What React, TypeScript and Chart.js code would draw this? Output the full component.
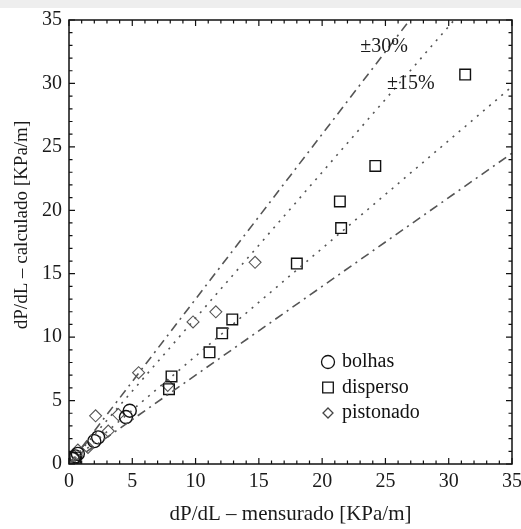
import React, { useEffect, useRef } from "react";
import { Chart, registerables } from "chart.js";

Chart.register(...registerables);

// ---- data ----
const bolhasX = [0.3, 0.5, 0.7, 2.0, 2.3, 4.5, 4.8];
const bolhasY = [0.4, 0.6, 0.8, 1.8, 2.1, 3.7, 4.2];

const dispersoX = [0.5, 7.9, 8.1, 11.1, 12.1, 12.9, 18.0, 21.4, 21.5, 24.2, 31.3];
const dispersoY = [0.5, 5.9, 6.9, 8.8, 10.3, 11.4, 15.8, 20.7, 18.6, 23.5, 30.7];

const pistonadoX = [0.4, 0.7, 1.5, 2.1, 3.1, 3.9, 5.5, 7.8, 9.8, 11.6, 14.7];
const pistonadoY = [0.6, 1.1, 1.3, 3.8, 2.6, 3.9, 7.2, 6.2, 11.2, 12.0, 15.9];

// reference lines (endpoints)
const linePlus30 = [[0, 0], [35, 45.5]];
const linePlus15 = [[0, 0], [35, 40.25]];
const lineMinus15 = [[0, 0], [35, 29.75]];
const lineMinus30 = [[0, 0], [35, 24.5]];

const axisMin = 0;
const axisMax = 35;
const majorStep = 5;
const minorStep = 1;

const xTitle = "dP/dL \u2013 mensurado [KPa/m]";
const yTitle = "dP/dL \u2013 calculado [KPa/m]";
const legendLabels = ["bolhas", "disperso", "pistonado"];
const band30Label = "\u00b130%";
const band15Label = "\u00b115%";

const SERIF = "'Liberation Serif', 'Times New Roman', serif";

const toPts = (xs: number[], ys: number[]) => xs.map((x, i) => ({ x, y: ys[i] }));
const linePts = (l: number[][]) => l.map(([x, y]) => ({ x, y }));

function drawMarker(ctx: CanvasRenderingContext2D, style: string, r: number, x: number, y: number) {
  ctx.beginPath();
  if (style === "circle") {
    ctx.arc(x, y, r, 0, Math.PI * 2);
  } else if (style === "rect") {
    const s = r * Math.SQRT1_2;
    ctx.rect(x - s, y - s, 2 * s, 2 * s);
  } else {
    ctx.moveTo(x, y - r);
    ctx.lineTo(x + r, y);
    ctx.lineTo(x, y + r);
    ctx.lineTo(x - r, y);
    ctx.closePath();
  }
  ctx.stroke();
}

const framePlugin = {
  id: "frame",
  beforeDraw(chart: any) {
    const { ctx, width } = chart;
    ctx.save();
    ctx.fillStyle = "#ffffff";
    ctx.fillRect(0, 0, chart.width, chart.height);
    ctx.fillStyle = "#eeeeee";
    ctx.fillRect(0, 0, width, 8);
    ctx.restore();
  },
  afterDraw(chart: any) {
    const { ctx, chartArea: a, scales } = chart;
    const xs = scales.x;
    const ys = scales.y;
    ctx.save();
    ctx.strokeStyle = "#111";
    ctx.lineWidth = 1.5;
    ctx.strokeRect(a.left, a.top, a.right - a.left, a.bottom - a.top);
    ctx.lineWidth = 1.2;
    for (let v = axisMin; v <= axisMax + 1e-9; v += minorStep) {
      const major = Math.abs(v % majorStep) < 1e-9;
      const len = major ? 6 : 3.5;
      const px = xs.getPixelForValue(v);
      const py = ys.getPixelForValue(v);
      ctx.beginPath();
      ctx.moveTo(px, a.bottom);
      ctx.lineTo(px, a.bottom - len);
      ctx.moveTo(px, a.top);
      ctx.lineTo(px, a.top + len);
      ctx.moveTo(a.left, py);
      ctx.lineTo(a.left + len, py);
      ctx.moveTo(a.right, py);
      ctx.lineTo(a.right - len, py);
      ctx.stroke();
    }
    // tick labels
    ctx.fillStyle = "#1a1a1a";
    ctx.font = `20px ${SERIF}`;
    for (let v = axisMin; v <= axisMax + 1e-9; v += majorStep) {
      ctx.textAlign = "center";
      ctx.textBaseline = "middle";
      ctx.fillText(String(v), xs.getPixelForValue(v), a.bottom + 18);
      ctx.textAlign = "right";
      ctx.fillText(String(v), a.left - 7, ys.getPixelForValue(v));
    }
    // axis titles
    ctx.font = `21px ${SERIF}`;
    ctx.textAlign = "center";
    ctx.textBaseline = "middle";
    ctx.fillText(xTitle, (a.left + a.right) / 2, a.bottom + 50);
    ctx.save();
    ctx.font = `19px ${SERIF}`;
    ctx.translate(22, 225);
    ctx.rotate(-Math.PI / 2);
    ctx.fillText(yTitle, 0, 0);
    ctx.restore();
    // band labels
    ctx.font = `20px ${SERIF}`;
    ctx.textAlign = "center";
    ctx.fillText(band30Label, xs.getPixelForValue(24.9), ys.getPixelForValue(32.9));
    ctx.fillText(band15Label, xs.getPixelForValue(27.0), ys.getPixelForValue(30.0));
    // legend
    const styles = ["circle", "rect", "rectRot"];
    const radii = [6.5, 7.5, 5];
    const colors = ["#111", "#111", "#444"];
    const mx = a.left + 259;
    const ty = a.top + 342;
    ctx.font = `20px ${SERIF}`;
    ctx.textAlign = "left";
    for (let i = 0; i < legendLabels.length; i++) {
      const y = ty + i * 25.5;
      ctx.strokeStyle = colors[i];
      ctx.lineWidth = 1.3;
      drawMarker(ctx, styles[i], radii[i], mx, y);
      ctx.fillStyle = "#111";
      ctx.fillText(legendLabels[i], mx + 14, y);
    }
    ctx.restore();
  },
};

export default function App() {
  const ref = useRef<HTMLCanvasElement | null>(null);
  useEffect(() => {
    if (!ref.current) return;
    const dashDot = [9, 5, 2, 5];
    const dotted = [2, 6];
    const lineBase = {
      type: "line" as const,
      borderColor: "#555",
      borderWidth: 1.6,
      pointRadius: 0,
      fill: false,
      tension: 0,
    };
    const chart = new Chart(ref.current, {
      type: "scatter",
      data: {
        datasets: [
          { ...lineBase, label: "+30", data: linePts(linePlus30), borderDash: dashDot },
          { ...lineBase, label: "+15", data: linePts(linePlus15), borderDash: dotted },
          { ...lineBase, label: "-15", data: linePts(lineMinus15), borderDash: dotted },
          { ...lineBase, label: "-30", data: linePts(lineMinus30), borderDash: dashDot },
          {
            label: legendLabels[0],
            data: toPts(bolhasX, bolhasY),
            pointStyle: "circle",
            pointRadius: 6.5,
            borderColor: "#111",
            backgroundColor: "rgba(0,0,0,0)",
            borderWidth: 1.4,
          },
          {
            label: legendLabels[1],
            data: toPts(dispersoX, dispersoY),
            pointStyle: "rect",
            pointRadius: 7.5,
            borderColor: "#111",
            backgroundColor: "rgba(0,0,0,0)",
            borderWidth: 1.4,
          },
          {
            label: legendLabels[2],
            data: toPts(pistonadoX, pistonadoY),
            pointStyle: "rectRot",
            pointRadius: 6,
            borderColor: "#555",
            backgroundColor: "rgba(0,0,0,0)",
            borderWidth: 1.1,
          },
        ] as any,
      },
      options: {
        animation: false,
        responsive: false,
        maintainAspectRatio: false,
        layout: { padding: { top: 20, right: 9, left: 0, bottom: 0 } },
        plugins: { legend: { display: false }, tooltip: { enabled: false } },
        scales: {
          x: {
            type: "linear",
            min: axisMin,
            max: axisMax,
            grid: { display: false },
            border: { display: false },
            ticks: { display: false },
            afterFit: (s: any) => { s.height = 65; },
          },
          y: {
            type: "linear",
            min: axisMin,
            max: axisMax,
            grid: { display: false },
            border: { display: false },
            ticks: { display: false },
            afterFit: (s: any) => { s.width = 69; },
          },
        },
      },
      plugins: [framePlugin],
    });
    return () => chart.destroy();
  }, []);
  return (
    <div style={{ position: "fixed", left: 0, top: 0, width: 521, height: 529, background: "#fff" }}>
      <canvas ref={ref} width={521} height={529} style={{ display: "block", width: 521, height: 529 }} />
    </div>
  );
}
